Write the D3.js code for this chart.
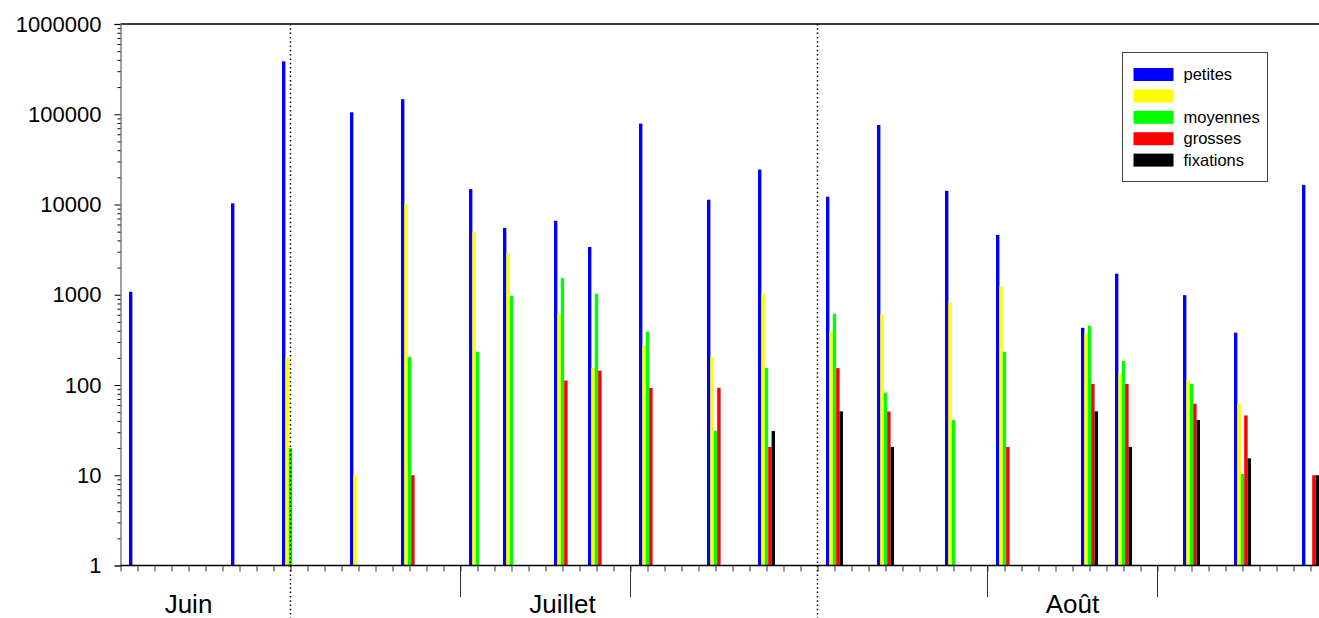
<!DOCTYPE html>
<html lang="fr">
<head>
<meta charset="utf-8">
<script src="https://cdn.jsdelivr.net/npm/d3@7"></script>
<style>
  html, body { margin: 0; padding: 0; background: #fff; }
  svg { display: block; font-family: "Liberation Sans", Arial, sans-serif; }
</style>
</head>
<body>
<svg id="chart" width="1319" height="618"></svg>
<script>
// Dates de relevé (mois-jour)
const dates = ["06-21","06-27","06-30","07-04","07-07","07-11","07-13","07-16","07-18","07-21",
               "07-25","07-28","08-01","08-04","08-08","08-11","08-16","08-18","08-22","08-25","08-29"];

// Effectifs par classe (null = pas de barre)
const petites   = [1080, 10300, 386000, 105000, 147000, 14800, 5500, 6600, 3380, 78800,
                   11300, 24400, 12200, 76000, 14200, 4600, 430, 1710, 990, 380, 16500];
const jaunes    = [null, null, 200, 10, 10000, 5000, 2840, 610, 155, 275,
                   205, 1030, 390, 610, 820, 1230, 373, 134, 113, 62, null];
const moyennes  = [null, null, 20, null, 205, 234, 975, 1530, 1026, 389,
                   31, 155, 616, 82, 41, 234, 454, 185, 103, 10.3, null];
const grosses   = [null, null, null, null, 10, null, null, 112, 144, 93,
                   93, 20.6, 154, 51, null, 20.6, 103, 103, 62, 46, 10];
const fixations = [null, null, null, null, null, null, null, null, null, null,
                   null, 31, 51, 20.6, null, null, 51, 20.6, 41, 15.4, 10];

const seriesNames  = ["petites", "", "moyennes", "grosses", "fixations"];
const seriesValues = [petites, jaunes, moyennes, grosses, fixations];
const seriesColors = ["#0000ff", "#ffff00", "#00ff00", "#ff0000", "#000000"];

const yTicks = [1, 10, 100, 1000, 10000, 100000, 1000000];

const months = [
  { label: "Juin",    at: "06-25" },
  { label: "Juillet", at: "07-17" },
  { label: "Août",    at: "08-16" }
];
const monthStarts = ["07-01", "08-01"];
const decadeMarks = ["07-11", "07-21", "08-11", "08-21"];

// ---- Mise en page ----
const annee = 2000;
const parse = s => new Date(Date.UTC(annee, +s.slice(0, 2) - 1, +s.slice(3)));
const DAY = 24 * 3600 * 1000;

const svg = d3.select("#chart");
const plotLeft = 120.5, plotTop = 24, plotBottom = 565.5;
const start = parse("06-21"), end = parse("08-31");
const nDays = Math.round((end - start) / DAY);
const dayW = 17;

const x = d3.scaleUtc().domain([start, end]).range([plotLeft, plotLeft + nDays * dayW]);
const y = d3.scaleLog().domain([1, 1000000]).range([plotBottom, plotTop]);
const inner = d3.scaleBand().domain(d3.range(seriesNames.length)).range([0, dayW]).padding(0);

// Barres
const rows = [];
seriesValues.forEach((vals, si) => {
  vals.forEach((v, i) => {
    if (v != null) rows.push({ si, date: parse(dates[i]), v });
  });
});

svg.append("g").selectAll("rect").data(rows).join("rect")
  .attr("x", d => x(d.date) + dayW / 2 + inner(d.si))
  .attr("width", inner.bandwidth())
  .attr("y", d => y(d.v))
  .attr("height", d => y(1) - y(d.v))
  .attr("fill", d => seriesColors[d.si]);

// Ligne supérieure du cadre
svg.append("line")
  .attr("x1", plotLeft).attr("x2", 1319)
  .attr("y1", plotTop).attr("y2", plotTop)
  .attr("stroke", "#000").attr("stroke-width", 1.3);

// Axe des ordonnées (log) : graduations principales
const yAxis = svg.append("g").attr("transform", `translate(${plotLeft},0)`)
  .call(d3.axisLeft(y).tickValues(yTicks).tickFormat(d3.format("d")).tickSize(6).tickPadding(13));
yAxis.select(".domain").attr("stroke", "#808080").attr("stroke-width", 1.5);
yAxis.selectAll(".tick line").attr("stroke", "#000");
yAxis.selectAll(".tick text").attr("font-size", 22).attr("fill", "#000")
  .attr("font-family", "'Liberation Sans', Arial, sans-serif");

// Graduations secondaires
const minor = [];
for (let e = 0; e < 6; e++) for (let k = 2; k <= 9; k++) minor.push(k * Math.pow(10, e));
const yMinor = svg.append("g").attr("transform", `translate(${plotLeft},0)`)
  .call(d3.axisLeft(y).tickValues(minor).tickFormat("").tickSize(3));
yMinor.select(".domain").remove();
yMinor.selectAll(".tick line").attr("stroke", "#000");

// Axe des abscisses : un trait par jour
const xAxis = svg.append("g").attr("transform", `translate(0,${plotBottom})`)
  .call(d3.axisBottom(x).ticks(d3.utcDay.every(1)).tickFormat("").tickSize(6).tickSizeOuter(0));
xAxis.select(".domain").attr("stroke", "#000").attr("stroke-width", 1.3)
  .attr("d", `M${plotLeft},0H1319`);
xAxis.selectAll(".tick line").attr("stroke", "#333");

// Repères de décade
svg.append("g").selectAll("line").data(decadeMarks).join("line")
  .attr("x1", d => x(parse(d))).attr("x2", d => x(parse(d)))
  .attr("y1", plotBottom).attr("y2", 597)
  .attr("stroke", "#333").attr("stroke-width", 1);

// Séparations entre mois (pointillés)
svg.append("g").selectAll("line").data(monthStarts).join("line")
  .attr("x1", d => x(parse(d))).attr("x2", d => x(parse(d)))
  .attr("y1", plotTop).attr("y2", 618)
  .attr("stroke", "#000").attr("stroke-width", 1.5)
  .attr("stroke-dasharray", "1.5,2.8");

// Noms des mois
svg.append("g").selectAll("text").data(months).join("text")
  .attr("x", d => x(parse(d.at)))
  .attr("y", 613)
  .attr("text-anchor", "middle")
  .attr("font-size", 26)
  .attr("fill", "#000")
  .text(d => d.label);

// Légende
const lg = svg.append("g").attr("transform", "translate(1122.5,52.5)");
lg.append("rect").attr("width", 145).attr("height", 129)
  .attr("fill", "#fff").attr("stroke", "#444").attr("stroke-width", 1);
const item = lg.selectAll("g").data(seriesNames).join("g")
  .attr("transform", (d, i) => `translate(11,${15.5 + i * 21.4})`);
item.append("rect").attr("width", 40).attr("height", 13)
  .attr("fill", (d, i) => seriesColors[i]);
item.append("text").attr("x", 50).attr("y", 12)
  .attr("font-size", 16.5).attr("fill", "#000")
  .text(d => d);
</script>
</body>
</html>
